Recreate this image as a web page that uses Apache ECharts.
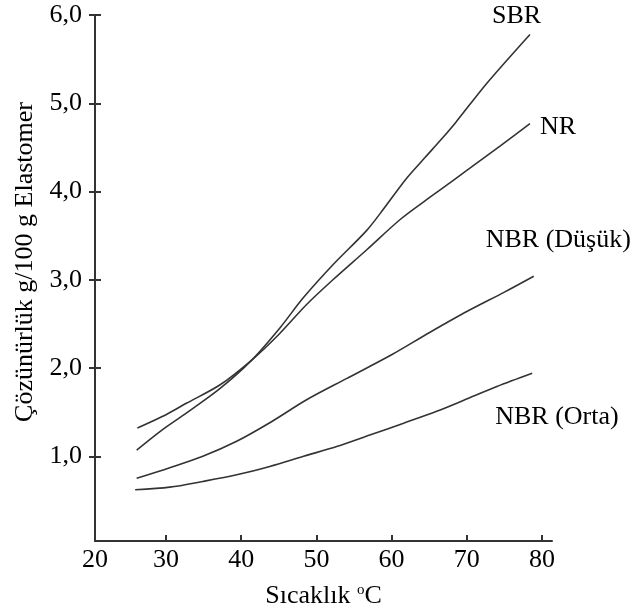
<!DOCTYPE html>
<html>
<head>
<meta charset="utf-8">
<script src="https://cdn.jsdelivr.net/npm/echarts@6/dist/echarts.min.js"></script>
<style>
    html, body { margin: 0; padding: 0; background: #fff; }
    #main { width: 635px; height: 615px; }
</style>
</head>
<body>
<div id="main"></div>
<script>
// 数据 ==================================================
var seriesNames = ['SBR', 'NR', 'NBR (Düşük)', 'NBR (Orta)']

// [Sıcaklık, Çözünürlük]
var sbr = [[26.1, 1.07], [29.5, 1.30], [32.7, 1.49], [37.2, 1.77], [41.4, 2.09], [45.2, 2.46], [48.2, 2.79],
    [52.2, 3.17], [56.7, 3.56], [59.0, 3.81], [62.0, 4.15], [64.5, 4.39], [66.7, 4.60], [68.5, 4.78],
    [72.7, 5.23], [78.4, 5.78]]
var nr = [[26.2, 1.32], [29.5, 1.45], [32.7, 1.60], [37.2, 1.81], [41.4, 2.09], [45.0, 2.38], [48.7, 2.72],
    [52.2, 3.00], [56.7, 3.34], [61.1, 3.68], [64.7, 3.91], [67.8, 4.10], [70.5, 4.27], [74.5, 4.52],
    [78.4, 4.77]]
var nbrLow = [[26.1, 0.75], [30.5, 0.87], [34.9, 1.00], [39.4, 1.17], [43.8, 1.38], [48.7, 1.64], [54.0, 1.88],
    [60.0, 2.15], [65.0, 2.40], [70.0, 2.64], [75.0, 2.86], [78.9, 3.04]]
var nbrMid = [[25.9, 0.62], [30.5, 0.65], [34.9, 0.715], [39.4, 0.79], [43.8, 0.885], [48.3, 1.00], [52.7, 1.11],
    [57.1, 1.24], [61.6, 1.375], [66.0, 1.51], [69.6, 1.635], [74.0, 1.79], [78.7, 1.94]]

var xTicks = [30, 40, 50, 60, 70, 80]
var yTicks = [1, 2, 3, 4, 5, 6]
var xMin = 20.56, xMax = 81.33
var yMin = 0.04, yMax = 6

var font = "'Liberation Serif', 'Times New Roman', serif"
var ink = '#333'

// 图表 ==================================================
var myChart = echarts.init(document.getElementById('main'))

function line(name, data, offset) {
    return {
        name: name,
        type: 'line',
        data: data,
        smooth: 0.3,
        symbol: 'none',
        lineStyle: { color: ink, width: 1.6 },
        endLabel: {
            show: true,
            formatter: name,
            distance: 0,
            offset: offset,
            color: '#000',
            fontFamily: font,
            fontSize: 26
        }
    }
}

var option = {
    animation: false,
    grid: { left: 95, right: 83, top: 15, bottom: 74, outerBoundsMode: 'none' },
    xAxis: {
        type: 'value',
        min: xMin,
        max: xMax,
        name: '{a|Sıcaklık }{sup|o}{a|C}',
        nameLocation: 'middle',
        nameGap: 42,
        nameTextStyle: {
            rich: {
                a: { fontFamily: font, fontSize: 26, color: '#000' },
                sup: { fontFamily: font, fontSize: 15, color: '#000', verticalAlign: 'top' }
            }
        },
        axisLine: { lineStyle: { color: ink, width: 2 } },
        axisTick: { inside: true, length: 6, lineStyle: { color: ink, width: 2 }, customValues: xTicks },
        axisLabel: {
            customValues: [xMin].concat(xTicks),
            formatter: function (v) { return String(Math.floor(v / 10 + 1e-6) * 10) },
            margin: 6,
            color: '#000',
            fontFamily: font,
            fontSize: 26
        },
        splitLine: { show: false }
    },
    yAxis: [
        {
            type: 'value',
            min: yMin,
            max: yMax,
            name: 'Çözünürlük g/100 g Elastomer',
            nameLocation: 'middle',
            nameGap: 53,
            nameTextStyle: { fontFamily: font, fontSize: 26, color: '#000', padding: [0, 0, 0, 32] },
            axisLine: { lineStyle: { color: ink, width: 2 } },
            axisTick: { length: 6, lineStyle: { color: ink, width: 2 }, customValues: yTicks },
            axisLabel: {
                customValues: yTicks,
                formatter: function (v) { return v.toFixed(1).replace('.', ',') },
                margin: 13,
                color: '#000',
                fontFamily: font,
                fontSize: 26
            },
            splitLine: { show: false }
        },
        {
            // 内侧刻度, 让刻度穿过轴线
            type: 'value',
            min: yMin,
            max: yMax,
            position: 'left',
            axisLine: { show: false },
            axisTick: { inside: true, length: 6, lineStyle: { color: ink, width: 2 }, customValues: yTicks },
            axisLabel: { show: false },
            splitLine: { show: false }
        }
    ],
    series: [
        line(seriesNames[0], sbr, [-38, -18]),
        line(seriesNames[1], nr, [10, 4]),
        line(seriesNames[2], nbrLow, [-48, -36]),
        line(seriesNames[3], nbrMid, [-37, 44])
    ]
}
myChart.setOption(option)
</script>
</body>
</html>
